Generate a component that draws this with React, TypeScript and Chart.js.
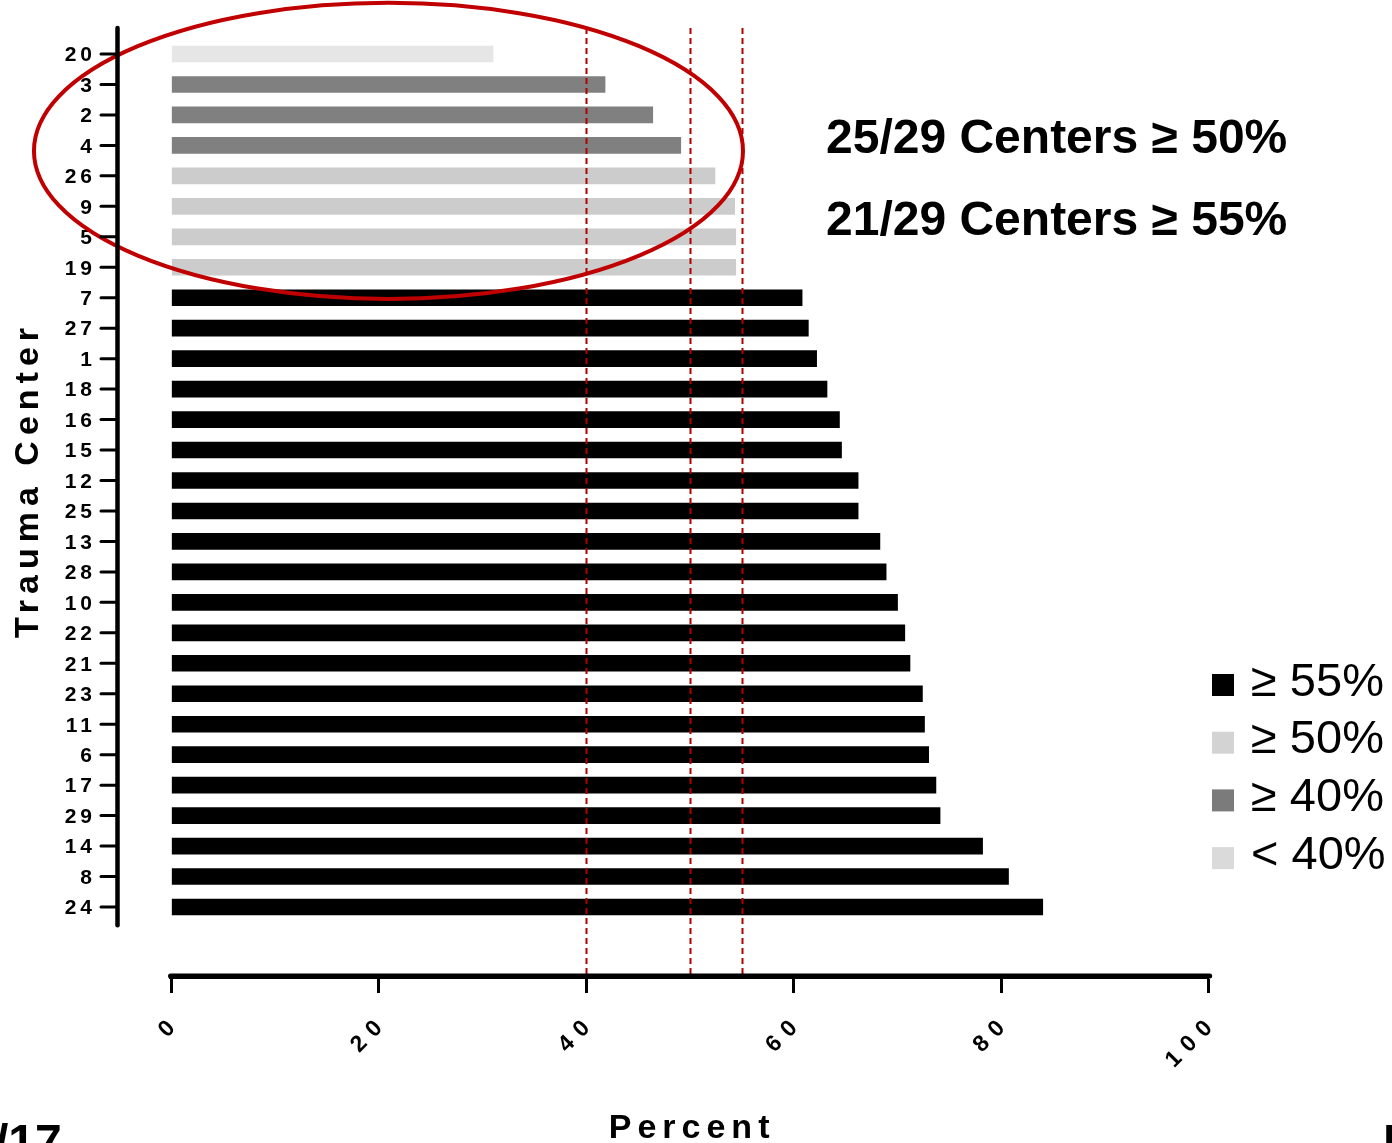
import React, { useEffect, useRef } from 'react';
import { Chart, registerables } from 'chart.js';

Chart.register(...registerables);

// ---------- data ----------
const CENTER_LABELS = ['20', '3', '2', '4', '26', '9', '5', '19', '7', '27', '1', '18', '16', '15', '12', '25', '13', '28', '10', '22', '21', '23', '11', '6', '17', '29', '14', '8', '24'];
const PERCENT_VALUES = [31.0, 41.8, 46.4, 49.1, 52.4, 54.3, 54.4, 54.4, 60.8, 61.4, 62.2, 63.2, 64.4, 64.6, 66.2, 66.2, 68.3, 68.9, 70.0, 70.7, 71.2, 72.4, 72.6, 73.0, 73.7, 74.1, 78.2, 80.7, 84.0];
const X_TICK_VALUES = [0, 20, 40, 60, 80, 100];
const REFERENCE_LINES = [40, 50, 55];
const THRESHOLDS = [55, 50, 40];
const BAR_COLORS = ['#000000', '#cccccc', '#808080', '#e6e6e6'];
const LEGEND_LABELS = ['≥ 55%', '≥ 50%', '≥ 40%', '< 40%'];
const LEGEND_COLORS = ['#000000', '#d3d3d3', '#7b7b7b', '#dadada'];
const ANNOTATION_LINES = ['25/29 Centers ≥ 50%', '21/29 Centers ≥ 55%'];
const X_TITLE = 'Percent';
const Y_TITLE = 'Trauma Center';

const FONT = "'Liberation Sans', Arial, Helvetica, sans-serif";

function colorFor(v: number): string {
  if (v >= THRESHOLDS[0]) return BAR_COLORS[0];
  if (v >= THRESHOLDS[1]) return BAR_COLORS[1];
  if (v >= THRESHOLDS[2]) return BAR_COLORS[2];
  return BAR_COLORS[3];
}

// highlight ellipse, in data units (x: percent, y: row index)
const ELLIPSE = { cx: 20.92, cy: 3.18, rx: 34.18, ry: 4.86 };
const Y_AXIS_END = 28.6;

const wrapLabels = (scale: any, ls: string, dx: number, dy: number) => {
  if (!scale || scale.$lsWrapped) return;
  const orig = scale.drawLabels;
  scale.drawLabels = function (area: any) {
    const c = this.ctx;
    c.save();
    c.letterSpacing = ls;
    c.translate(dx, dy);
    orig.call(this, area);
    c.restore();
  };
  scale.$lsWrapped = true;
};

const decorPlugin = {
  id: 'decor',
  beforeDraw(chart: any) {
    wrapLabels(chart.scales.y, '4px', 0, 0);
    wrapLabels(chart.scales.x, '8.5px', 6, -4);
  },
  afterDatasetsDraw(chart: any) {
    const ctx = chart.ctx;
    const xs = chart.scales.x;
    const ys = chart.scales.y;
    const area = chart.chartArea;
    // dashed reference lines
    ctx.save();
    ctx.strokeStyle = '#b00000';
    ctx.lineWidth = 2;
    ctx.setLineDash([6, 4]);
    REFERENCE_LINES.forEach((v) => {
      const px = Math.round(xs.getPixelForValue(v)) + 0.5;
      ctx.beginPath();
      ctx.moveTo(px, area.top);
      ctx.lineTo(px, area.bottom);
      ctx.stroke();
    });
    ctx.restore();
    // ellipse
    const cx = xs.getPixelForValue(ELLIPSE.cx);
    const rx = xs.getPixelForValue(ELLIPSE.cx + ELLIPSE.rx) - cx;
    const cy = ys.getPixelForValue(ELLIPSE.cy);
    const ry = ys.getPixelForValue(ELLIPSE.cy + ELLIPSE.ry) - cy;
    ctx.save();
    ctx.strokeStyle = '#c00000';
    ctx.lineWidth = 4;
    ctx.beginPath();
    ctx.ellipse(cx, cy, Math.abs(rx), Math.abs(ry), 0, 0, Math.PI * 2);
    ctx.stroke();
    ctx.restore();
  },
  afterDraw(chart: any) {
    const ctx = chart.ctx;
    const xs = chart.scales.x;
    const ys = chart.scales.y;
    const area = chart.chartArea;
    ctx.save();
    // y axis line
    const axisX = 117.5;
    ctx.strokeStyle = '#000';
    ctx.lineCap = 'round';
    ctx.lineWidth = 4.5;
    ctx.beginPath();
    ctx.moveTo(axisX, area.top);
    ctx.lineTo(axisX, ys.getPixelForValue(Y_AXIS_END));
    ctx.stroke();
    // y tick marks
    ctx.lineWidth = 3;
    CENTER_LABELS.forEach((_, i) => {
      const py = ys.getPixelForValue(i);
      ctx.beginPath();
      ctx.moveTo(101, py);
      ctx.lineTo(axisX, py);
      ctx.stroke();
    });
    // rounded caps at x axis ends
    ctx.lineWidth = 5;
    ctx.beginPath();
    ctx.moveTo(xs.left - 1, area.bottom);
    ctx.lineTo(xs.right + 1, area.bottom);
    ctx.stroke();
    ctx.restore();

    // axis titles
    ctx.save();
    ctx.fillStyle = '#000';
    ctx.font = `bold 34px ${FONT}`;
    ctx.letterSpacing = '6px';
    ctx.textAlign = 'center';
    ctx.textBaseline = 'alphabetic';
    ctx.fillText(X_TITLE, (xs.left + xs.right) / 2 + 2, 1138);
    ctx.translate(38, 481);
    ctx.rotate(-Math.PI / 2);
    ctx.fillText(Y_TITLE, 1, 0);
    ctx.restore();

    // annotations
    ctx.save();
    ctx.fillStyle = '#000';
    ctx.font = `bold 48px ${FONT}`;
    ctx.textAlign = 'left';
    ctx.textBaseline = 'alphabetic';
    ANNOTATION_LINES.forEach((t, i) => {
      ctx.fillText(t, 826, 153 + i * 82);
    });
    ctx.restore();

    // legend
    ctx.save();
    ctx.font = `47px ${FONT}`;
    ctx.textAlign = 'left';
    ctx.textBaseline = 'alphabetic';
    LEGEND_LABELS.forEach((t, i) => {
      const top = 674 + i * 57.7;
      ctx.fillStyle = LEGEND_COLORS[i];
      ctx.fillRect(1212, top, 22, 22);
      ctx.fillStyle = '#000';
      ctx.fillText(t, 1251, top + 21.5);
    });
    ctx.restore();
  },
};

export default function App() {
  const canvasRef = useRef<HTMLCanvasElement | null>(null);

  useEffect(() => {
    document.body.style.margin = '0';
    document.body.style.overflow = 'hidden';
    Chart.defaults.font.family = FONT;
    const canvas = canvasRef.current;
    if (!canvas) return;
    const chart = new Chart(canvas, {
      type: 'bar',
      data: {
        datasets: [
          {
            data: PERCENT_VALUES.map((v, i) => ({ x: v, y: i })) as any,
            backgroundColor: PERCENT_VALUES.map(colorFor),
            borderWidth: 0,
            barThickness: 16,
          },
        ],
      },
      options: {
        indexAxis: 'y',
        animation: false,
        responsive: false,
        devicePixelRatio: 1,
        events: [],
        layout: { padding: { left: 0, right: 183.3, top: 28, bottom: 0 } },
        plugins: { legend: { display: false }, tooltip: { enabled: false } },
        scales: {
          x: {
            type: 'linear',
            position: 'bottom',
            min: 0,
            max: 100,
            afterBuildTicks: (s: any) => {
              s.ticks = X_TICK_VALUES.map((v) => ({ value: v }));
            },
            afterFit: (s: any) => {
              s.height = 167;
            },
            grid: {
              display: true,
              drawOnChartArea: false,
              drawTicks: true,
              tickLength: 17,
              tickWidth: 3,
              tickColor: '#000',
            },
            border: { display: true, color: '#000', width: 5 },
            ticks: {
              autoSkip: false,
              minRotation: 45,
              maxRotation: 45,
              padding: 20,
              color: '#000',
              font: { size: 23, weight: 'bold' },
            },
          },
          y: {
            type: 'linear',
            reverse: true,
            offset: false,
            min: -0.854,
            max: 30.265,
            afterBuildTicks: (s: any) => {
              s.ticks = CENTER_LABELS.map((_, i) => ({ value: i }));
            },
            afterFit: (s: any) => {
              s.width = 171.5;
            },
            grid: {
              display: true,
              drawOnChartArea: false,
              drawTicks: true,
              tickLength: 70,
              tickColor: 'rgba(0,0,0,0)',
            },
            border: { display: false },
            ticks: {
              autoSkip: false,
              padding: 5.5,
              labelOffset: 1.5,
              color: '#000',
              font: { size: 21, weight: 'bold' },
              callback: (v: any) => CENTER_LABELS[v] ?? '',
            },
          },
        },
      },
      plugins: [decorPlugin],
    });
    return () => chart.destroy();
  }, []);

  return (
    <div style={{ position: 'absolute', left: 0, top: 0, width: 1392, height: 1143, overflow: 'hidden', background: '#fff' }}>
      <canvas ref={canvasRef} width={1392} height={1143} style={{ display: 'block', width: 1392, height: 1143 }} />
      <div style={{ position: 'absolute', left: -5, top: 1118, font: `bold 48px ${FONT}`, color: '#000', lineHeight: '48px', whiteSpace: 'nowrap' }}>/17</div>
      <div style={{ position: 'absolute', left: 1383, top: 1118, font: `bold 48px ${FONT}`, color: '#000', lineHeight: '48px', whiteSpace: 'nowrap' }}>P</div>
    </div>
  );
}
